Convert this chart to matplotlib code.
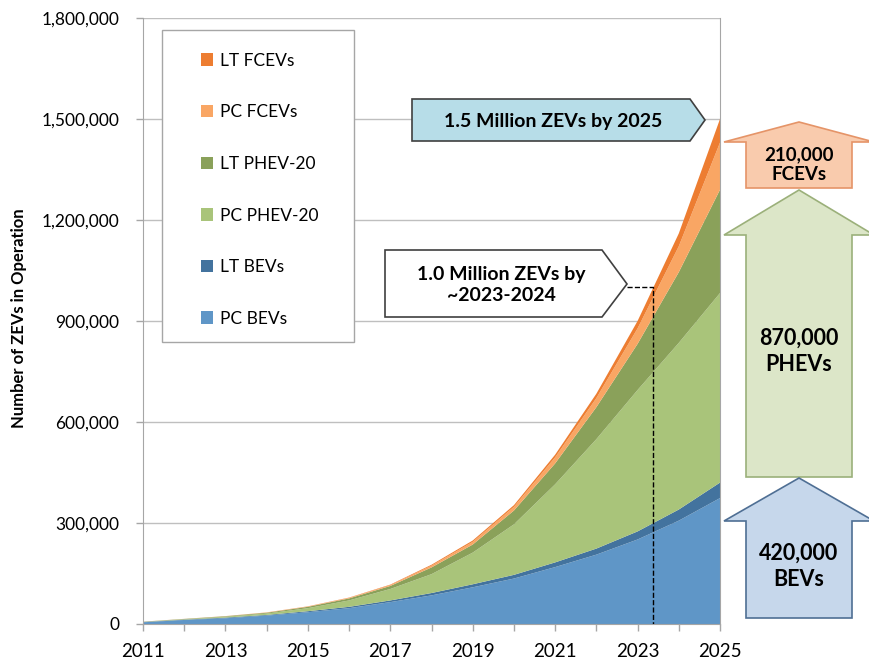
import numpy as np
import matplotlib
matplotlib.use("Agg")
import matplotlib.pyplot as plt
from matplotlib.patches import Polygon, Rectangle, Patch
from matplotlib.ticker import FuncFormatter

plt.rcParams['font.family'] = ['Lato', 'DejaVu Sans']

# data, thousands of vehicles in operation
years = np.arange(2011, 2026)
pc_bev = [5, 12, 17, 25, 35, 47, 65, 85, 109, 135, 169, 206, 251, 307, 374]
lt_bev = [1, 1, 2, 2, 3, 4, 5, 7, 9, 11, 14, 18, 24, 33, 46]
pc_phev = [0.5, 1, 2.5, 4, 9, 19, 34, 56, 94, 150, 232, 325, 420, 495, 563]
lt_phev = [0.3, 1, 1.5, 2.5, 4, 6, 9, 20, 24, 41, 62, 95, 137, 210, 307]
pc_fcev = [0.1, 0.2, 0.3, 0.7, 1, 1.7, 2.7, 5.3, 8, 11, 18, 27, 46, 77, 140]
lt_fcev = [0.1, 0.1, 0.2, 0.3, 0.5, 0.8, 1.3, 2.7, 4, 5, 8, 13, 22, 38, 70]

labels = ['PC BEVs', 'LT BEVs', 'PC PHEV-20', 'LT PHEV-20', 'PC FCEVs', 'LT FCEVs']
colors = ['#5F96C7', '#43739E', '#A9C47A', '#8AA15A', '#F9A664', '#ED7D31']
series = np.array([pc_bev, lt_bev, pc_phev, lt_phev, pc_fcev, lt_fcev]) * 1000

W, H = 869, 663
AX_L, AX_R, AX_T, AX_B = 143, 720, 18, 624
fig = plt.figure(figsize=(W / 100, H / 100), dpi=100)
ax = fig.add_axes([AX_L / W, 1 - AX_B / H, (AX_R - AX_L) / W, (AX_B - AX_T) / H])

ax.stackplot(years, series, colors=colors, linewidth=0, zorder=2)

ax.set_xlim(2011, 2025)
ax.set_ylim(0, 1800000)
ax.set_yticks(np.arange(0, 1800001, 300000))
ax.yaxis.set_major_formatter(FuncFormatter(lambda v, p: f'{int(v):,}'))
ax.set_xticks(years)
ax.set_xticklabels([str(y) if (y - 2011) % 2 == 0 else '' for y in years])
ax.tick_params(axis='both', colors='#A6A6A6', labelcolor='black', length=5, width=1)
ax.tick_params(axis='y', labelsize=12.5, pad=12)
ax.tick_params(axis='x', labelsize=13.5, pad=9)
ax.grid(axis='y', color='#BFBFBF', linewidth=1, zorder=0)
ax.set_axisbelow(True)
for s in ax.spines.values():
    s.set_color('#A6A6A6')
ax.spines['top'].set_visible(False)
ax.set_ylabel('Number of ZEVs in Operation', fontsize=12, fontweight='bold')
ax.yaxis.set_label_coords(-0.201, 0.505)

# legend box + entries
aw = AX_R - AX_L
ah = AX_B - AX_T
ax.add_patch(Rectangle(((162 - AX_L) / aw, (AX_B - 342) / ah), 192 / aw, 312 / ah,
                       transform=ax.transAxes, facecolor='white', edgecolor='#A6A6A6',
                       linewidth=1, zorder=3))
handles = [Patch(facecolor=c, label=l) for c, l in zip(colors, labels)][::-1]
leg = ax.legend(handles=handles, loc='upper left',
                bbox_to_anchor=((192 - AX_L) / aw, 0.957),
                frameon=False, fontsize=12.5, borderpad=0, labelspacing=2.05,
                handlelength=0.72, handleheight=0.72, handletextpad=0.4)
leg.set_zorder(4)

# dashed marker where the total crosses 1.0 million
totals = series.sum(axis=0)
x_cross = np.interp(1000000, totals, years)
x_tip = 2011 + (627 - AX_L) / (aw / 14)
ax.plot([x_tip, x_cross, x_cross], [1000000, 1000000, 0], color='black',
        linestyle='--', linewidth=1, zorder=5)


def px(x, y):
    return (x / W, 1 - y / H)


def shape(pts, fc, ec):
    fig.add_artist(Polygon([px(*p) for p in pts], closed=True, transform=fig.transFigure,
                           facecolor=fc, edgecolor=ec, linewidth=1.2, zorder=6))


# callout boxes
shape([(412, 99), (690, 99), (705, 120), (690, 141), (412, 141)], '#B7DDE8', '#404040')
fig.text(*px(553, 121), '1.5 Million ZEVs by 2025', ha='center', va='center',
         fontsize=14, fontweight='bold', zorder=7)
shape([(385, 250), (602, 250), (627, 284), (602, 317), (385, 317)], 'white', '#404040')
fig.text(*px(501, 285), '1.0 Million ZEVs by\n~2023-2024', ha='center', va='center',
         fontsize=14, fontweight='bold', linespacing=1.35, zorder=7)


# up arrows on the right
def up_arrow(tip, base, bottom, fc, ec):
    shape([(799, tip), (874, base), (852, base), (852, bottom), (746, bottom),
           (746, base), (724, base)], fc, ec)


up_arrow(122, 142, 188, '#F9CBAD', '#E59468')
up_arrow(190, 235, 477, '#DCE6C8', '#9BB07A')
up_arrow(478, 521, 618, '#C6D7EB', '#4F6F94')
fig.text(*px(799, 165), '210,000\nFCEVs', ha='center', va='center', fontsize=13.5,
         fontweight='bold', linespacing=1.2, zorder=7)
fig.text(*px(799, 351), '870,000\nPHEVs', ha='center', va='center', fontsize=15.5,
         fontweight='bold', linespacing=1.3, zorder=7)
fig.text(*px(799, 566), '420,000\nBEVs', ha='center', va='center', fontsize=15.5,
         fontweight='bold', linespacing=1.3, zorder=7)

fig.savefig('out.png', dpi=100)
